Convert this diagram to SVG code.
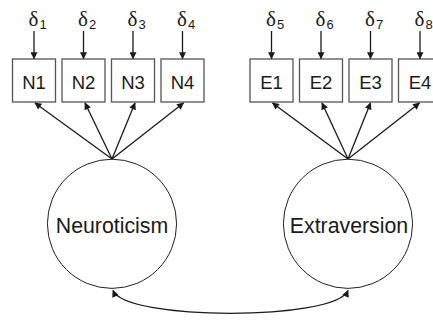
<svg xmlns="http://www.w3.org/2000/svg" width="433" height="325" viewBox="0 0 433 325">
<style>
.box{fill:#fff;stroke:#555;stroke-width:1.3}
.lat{fill:#fff;stroke:#222;stroke-width:1}
.lbl{font-family:"Liberation Sans",Arial,sans-serif;font-size:18.5px;fill:#1a1a1a;text-anchor:middle}
.big{font-family:"Liberation Sans",Arial,sans-serif;font-size:21.3px;fill:#1a1a1a;text-anchor:middle}
.d{font-family:"Liberation Serif","Times New Roman",serif;font-size:21px;fill:#1a1a1a}
.s{font-family:"Liberation Sans",Arial,sans-serif;font-size:13px;fill:#1a1a1a}
.c{fill:none;stroke:#1a1a1a;stroke-width:1.3;marker-end:url(#ah)}
</style>
<defs>
<marker id="ah" viewBox="0 0 10 10" refX="9" refY="5" markerWidth="8.5" markerHeight="7" markerUnits="userSpaceOnUse" orient="auto-start-reverse">
<path d="M0,0 L10,5 L0,10 z" fill="#1a1a1a"/>
</marker>
</defs>
<g id="N1"><rect class="box" x="12.5" y="59" width="43" height="43"/><text class="lbl" x="34" y="88.5">N1</text></g>
<g id="N2"><rect class="box" x="62" y="59" width="43" height="43"/><text class="lbl" x="83.5" y="88.5">N2</text></g>
<g id="N3"><rect class="box" x="111.5" y="59" width="43" height="43"/><text class="lbl" x="133" y="88.5">N3</text></g>
<g id="N4"><rect class="box" x="161" y="59" width="43" height="43"/><text class="lbl" x="182.5" y="88.5">N4</text></g>
<g id="E1"><rect class="box" x="250" y="59" width="43" height="43"/><text class="lbl" x="271.5" y="88.5">E1</text></g>
<g id="E2"><rect class="box" x="299.5" y="59" width="43" height="43"/><text class="lbl" x="321" y="88.5">E2</text></g>
<g id="E3"><rect class="box" x="349" y="59" width="43" height="43"/><text class="lbl" x="370.5" y="88.5">E3</text></g>
<g id="E4"><rect class="box" x="398.5" y="59" width="43" height="43"/><text class="lbl" x="420" y="88.5">E4</text></g>
<g id="d1"><text class="d" x="28.5" y="25.5">δ</text><text class="s" x="39.5" y="28.5">1</text></g>
<g id="d2"><text class="d" x="78" y="25.5">δ</text><text class="s" x="89" y="28.5">2</text></g>
<g id="d3"><text class="d" x="127.5" y="25.5">δ</text><text class="s" x="138.5" y="28.5">3</text></g>
<g id="d4"><text class="d" x="177" y="25.5">δ</text><text class="s" x="188" y="28.5">4</text></g>
<g id="d5"><text class="d" x="266" y="25.5">δ</text><text class="s" x="277" y="28.5">5</text></g>
<g id="d6"><text class="d" x="315.5" y="25.5">δ</text><text class="s" x="326.5" y="28.5">6</text></g>
<g id="d7"><text class="d" x="365" y="25.5">δ</text><text class="s" x="376" y="28.5">7</text></g>
<g id="d8"><text class="d" x="414.5" y="25.5">δ</text><text class="s" x="425.5" y="28.5">8</text></g>
<g id="Neuroticism"><circle class="lat" cx="112" cy="223.8" r="64.6"/><text class="big" x="112" y="232.5">Neuroticism</text></g>
<g id="Extraversion"><circle class="lat" cx="348" cy="223.8" r="64.6"/><text class="big" x="349" y="232.5">Extraversion</text></g>
<g id="connectors">
<path class="c" d="M34 31V58.5"/>
<path class="c" d="M83.5 31V58.5"/>
<path class="c" d="M133 31V58.5"/>
<path class="c" d="M182.5 31V58.5"/>
<path class="c" d="M271.5 31V58.5"/>
<path class="c" d="M321 31V58.5"/>
<path class="c" d="M370.5 31V58.5"/>
<path class="c" d="M420 31V58.5"/>
<path class="c" d="M112 159L35 103"/>
<path class="c" d="M112 159L85 103"/>
<path class="c" d="M112 159L135 103"/>
<path class="c" d="M112 159L183.5 103"/>
<path class="c" d="M348 159L272.5 103"/>
<path class="c" d="M348 159L322 103"/>
<path class="c" d="M348 159L370.5 103"/>
<path class="c" d="M348 159L419.5 103"/>
<path class="c" d="M113 290.5C126 321 335 321 348 290.5" style="marker-start:url(#ah)"/>
</g>
</svg>
